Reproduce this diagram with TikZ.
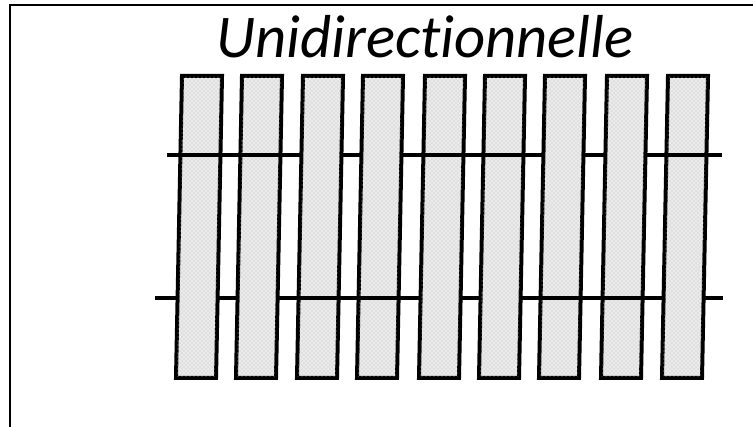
\documentclass[tikz,border=0pt]{standalone}
\usepackage{fontspec}
\setmainfont[Ligatures=NoCommon]{Carlito}
\usetikzlibrary{patterns}
\tikzset{
  strip/.style={draw=black, line width=3pt, fill=gray!16, line join=miter},
  stipple/.style={pattern=crosshatch dots, pattern color=gray!55},
  thread/.style={draw=black, line width=2.4pt},
  frameline/.style={draw=black, line width=1.6pt},
}
\begin{document}
\begin{tikzpicture}[x=0.75pt,y=-0.75pt]
\useasboundingbox (0,0) rectangle (753,427);
% frame (cropped)
\draw[frameline] (10,427) -- (10,5) -- (753,5);
% title
\node[font=\fontsize{45.5}{52}\selectfont\itshape, anchor=base, inner sep=0pt] (title) at (425,58) {Unidirectionnelle};
% threads (full, under everything)
\coordinate (t1a) at (167,155); \coordinate (t1b) at (722,155);
\coordinate (t2a) at (155,298); \coordinate (t2b) at (723,298);
\draw[thread] (t1a) -- (t1b);
\draw[thread] (t2a) -- (t2b);
% strips
\foreach \x [count=\i] in {182,242,303,363,425,485,545,607,668} {
  \draw[strip] (\x,76) -- (\x+40,76) -- (\x+34,378) -- (\x-6,378) -- cycle;
  \fill[stipple] (\x+1,77) -- (\x+39,77) -- (\x+33,377) -- (\x-5,377) -- cycle;
  \coordinate (s\i) at (\x,76);
}
% top thread over strips 1,2 ; 5,6 ; 9
\draw[thread] (175,155) -- (292,155);
\draw[thread] (415,155) -- (535,155);
\draw[thread] (655,155) -- (t1b);
% bottom thread over strips 3,4 ; 7,8
\draw[thread] (280,298) -- (410,298);
\draw[thread] (525,298) -- (650,298);
\end{tikzpicture}
\end{document}
